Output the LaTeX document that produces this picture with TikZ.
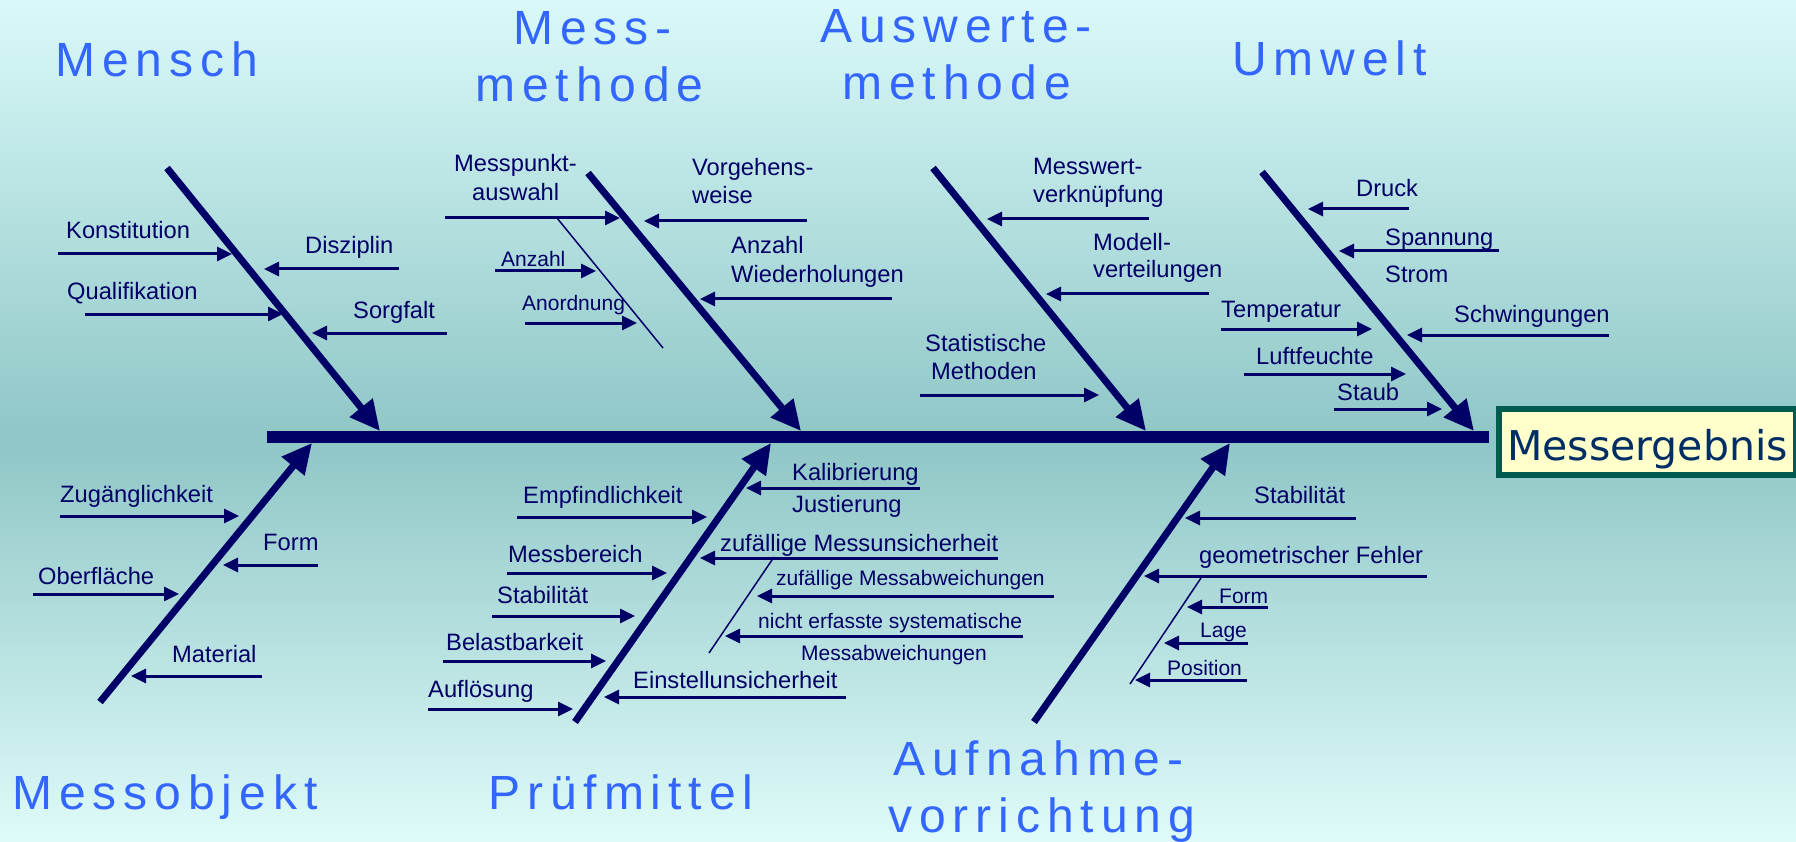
\documentclass[tikz,border=0pt]{standalone}
\usepackage{fontspec}
\setmainfont{Liberation Sans}
\newfontfamily\headfont[LetterSpace=14.5]{Liberation Sans}
\newfontfamily\resfont{DejaVu Sans}
\usetikzlibrary{arrows.meta}
\definecolor{navy}{RGB}{0,0,102}
\definecolor{headblue}{RGB}{51,102,255}
\definecolor{bgtop}{RGB}{218,249,249}
\definecolor{bgmid}{RGB}{143,198,198}
\definecolor{bgbot}{RGB}{222,251,249}
\definecolor{boxborder}{RGB}{0,90,78}
\definecolor{boxfill}{RGB}{255,255,204}
\definecolor{restext}{RGB}{0,45,100}
\tikzset{
  bone/.style={draw=navy, line width=7pt, -{Triangle[length=30pt,width=28pt]}},
  spine/.style={draw=navy, line width=12pt},
  subarrow/.style={draw=navy, line width=3pt, -{Triangle[length=15pt,width=14pt]}},
  twig/.style={draw=navy, line width=1.5pt},
  lbl/.style={text=navy, anchor=base west, inner sep=0pt, font=\fontsize{23.7}{28}\selectfont},
  slbl/.style={lbl, font=\fontsize{21}{25}\selectfont},
  heading/.style={text=headblue, anchor=base west, inner sep=0pt, font=\headfont\fontsize{48}{57}\selectfont},
}
\newcommand\sarr[4]{%
  \coordinate (#1s) at (#2,#4);
  \coordinate (#1t) at (#3,#4);
  \draw[subarrow] (#1s) -- (#1t);}
\begin{document}
\begin{tikzpicture}[x=1pt,y=-1pt]
\useasboundingbox (0,0) rectangle (1796,842);
% background
\fill[top color=bgtop,bottom color=bgmid] (0,0) rectangle (1796,440);
\fill[top color=bgmid,bottom color=bgbot] (0,439.5) rectangle (1796,842);

% spine
\coordinate (spA) at (267,437);
\coordinate (spB) at (1489,437);
\draw[spine] (spA) -- (spB);

% result box
\node[draw=boxborder, line width=6pt, fill=boxfill, anchor=north west,
      minimum width=297pt, minimum height=66pt, inner sep=0pt,
      text height=41pt, text depth=5pt, text=restext,
      font=\resfont\fontsize{41}{48}\selectfont] (res) at (1496,406) {Messergebnis};

% main bones
\coordinate (b1s) at (167,168);  \coordinate (b1t) at (380,431);
\coordinate (b2s) at (588,173);  \coordinate (b2t) at (801,431);
\coordinate (b3s) at (933,168);  \coordinate (b3t) at (1146,431);
\coordinate (b4s) at (1262,172); \coordinate (b4t) at (1474,431);
\coordinate (b5s) at (100,702);  \coordinate (b5t) at (312,443);
\coordinate (b6s) at (575,722);  \coordinate (b6t) at (771,443);
\coordinate (b7s) at (1034,722); \coordinate (b7t) at (1230,443);
\foreach \b in {b1,b2,b3,b4,b5,b6,b7} \draw[bone] (\b s) -- (\b t);

% headings
\node[heading] (hMensch) at (55,77) {Mensch};
\node[heading] (hMess1) at (513,45) {Mess-};
\node[heading] (hMess2) at (475,102) {methode};
\node[heading] (hAusw1) at (820,43) {Auswerte-};
\node[heading] (hAusw2) at (842,100) {methode};
\node[heading] (hUmwelt) at (1232,76) {Umwelt};
\node[heading] (hObj) at (12,809) {Messobjekt};
\node[heading] (hPruef) at (488,809) {Prüfmittel};
\node[heading] (hAuf1) at (893,775) {Aufnahme-};
\node[heading] (hAuf2) at (888,832) {vorrichtung};

% Mensch
\sarr{aKon}{58}{232}{254}
\sarr{aDis}{399}{264}{269}
\sarr{aQua}{85}{283}{314}
\sarr{aSor}{447}{312}{333}
\node[lbl] (lKon) at (66,239) {Konstitution};
\node[lbl] (lDis) at (305,254) {Disziplin};
\node[lbl] (lQua) at (67,300) {Qualifikation};
\node[lbl] (lSor) at (353,318) {Sorgfalt};

% Messmethode
\sarr{aMpa}{445}{620}{218}
\coordinate (tw1s) at (557,218); \coordinate (tw1t) at (663,348);
\draw[twig] (tw1s) -- (tw1t);
\sarr{aAnz}{495}{596}{271}
\sarr{aAno}{525}{637}{323}
\sarr{aVor}{807}{644}{221}
\sarr{aWie}{892}{700}{299}
\node[lbl] (lMpa1) at (454,172) {Messpunkt-};
\node[lbl] (lMpa2) at (472,201) {auswahl};
\node[slbl] (lAnz) at (501,267) {Anzahl};
\node[slbl] (lAno) at (522,311) {Anordnung};
\node[lbl] (lVor1) at (692,176) {Vorgehens-};
\node[lbl] (lVor2) at (692,204) {weise};
\node[lbl] (lWie1) at (731,254) {Anzahl};
\node[lbl] (lWie2) at (731,283) {Wiederholungen};

% Auswertemethode
\sarr{aMwv}{1149}{987}{219}
\sarr{aMov}{1209}{1046}{294}
\sarr{aSta}{920}{1099}{395}
\node[lbl] (lMwv1) at (1033,175) {Messwert-};
\node[lbl] (lMwv2) at (1033,203) {verknüpfung};
\node[lbl] (lMov1) at (1093,251) {Modell-};
\node[lbl] (lMov2) at (1093,278) {verteilungen};
\node[lbl] (lSta1) at (925,351) {Statistische};
\node[lbl] (lSta2) at (931,379) {Methoden};

% Umwelt
\sarr{aDru}{1409}{1308}{209}
\sarr{aSpa}{1499}{1339}{251}
\sarr{aTem}{1221}{1372}{329}
\sarr{aSch}{1609}{1407}{335}
\sarr{aLuf}{1244}{1406}{374}
\sarr{aStu}{1334}{1442}{409}
\node[lbl] (lDru) at (1356,197) {Druck};
\node[lbl] (lSpa) at (1385,246) {Spannung};
\node[lbl] (lStr) at (1385,283) {Strom};
\node[lbl] (lTem) at (1221,317) {Temperatur};
\node[lbl] (lSch) at (1454,323) {Schwingungen};
\node[lbl] (lLuf) at (1256,364) {Luftfeuchte};
\node[lbl] (lStb) at (1337,400) {Staub};

% Messobjekt
\sarr{aZug}{60}{239}{516}
\sarr{aFor}{318}{223}{565}
\sarr{aObe}{33}{179}{594}
\sarr{aMat}{262}{131}{676}
\node[lbl] (lZug) at (60,502) {Zugänglichkeit};
\node[lbl] (lFor) at (263,550) {Form};
\node[lbl] (lObe) at (38,584) {Oberfläche};
\node[lbl] (lMat) at (172,662) {Material};

% Pruefmittel
\sarr{aKal}{920}{746}{488}
\sarr{aEmp}{517}{707}{517}
\sarr{aZmu}{998}{700}{558}
\coordinate (tw2s) at (774,557); \coordinate (tw2t) at (709,653);
\draw[twig] (tw2s) -- (tw2t);
\sarr{aZma}{1054}{757}{596}
\sarr{aNes}{1023}{725}{636}
\sarr{aMbe}{507}{667}{573}
\sarr{aStp}{492}{635}{616}
\sarr{aBel}{443}{606}{661}
\sarr{aAuf}{428}{573}{709}
\sarr{aEin}{846}{604}{697}
\node[lbl] (lKal) at (792,480) {Kalibrierung};
\node[lbl] (lJus) at (792,512) {Justierung};
\node[lbl] (lEmp) at (523,503) {Empfindlichkeit};
\node[lbl] (lZmu) at (720,551) {zufällige Messunsicherheit};
\node[slbl] (lZma) at (776,585) {zufällige Messabweichungen};
\node[slbl] (lNes1) at (758,628) {nicht erfasste systematische};
\node[slbl] (lNes2) at (801,660) {Messabweichungen};
\node[lbl] (lMbe) at (508,562) {Messbereich};
\node[lbl] (lStp) at (497,603) {Stabilität};
\node[lbl] (lBel) at (446,650) {Belastbarkeit};
\node[lbl] (lAuf) at (428,697) {Auflösung};
\node[lbl] (lEin) at (633,688) {Einstellunsicherheit};

% Aufnahmevorrichtung
\sarr{aStv}{1356}{1185}{518}
\sarr{aGeo}{1427}{1144}{576}
\coordinate (tw3s) at (1201,578); \coordinate (tw3t) at (1130,684);
\draw[twig] (tw3s) -- (tw3t);
\sarr{aFrm}{1268}{1187}{607}
\sarr{aLag}{1248}{1164}{643}
\sarr{aPos}{1247}{1135}{680}
\node[lbl] (lStv) at (1254,503) {Stabilität};
\node[lbl] (lGeo) at (1199,563) {geometrischer Fehler};
\node[slbl] (lFrm) at (1219,603) {Form};
\node[slbl] (lLag) at (1200,637) {Lage};
\node[slbl] (lPos) at (1167,675) {Position};
\end{tikzpicture}
\end{document}
